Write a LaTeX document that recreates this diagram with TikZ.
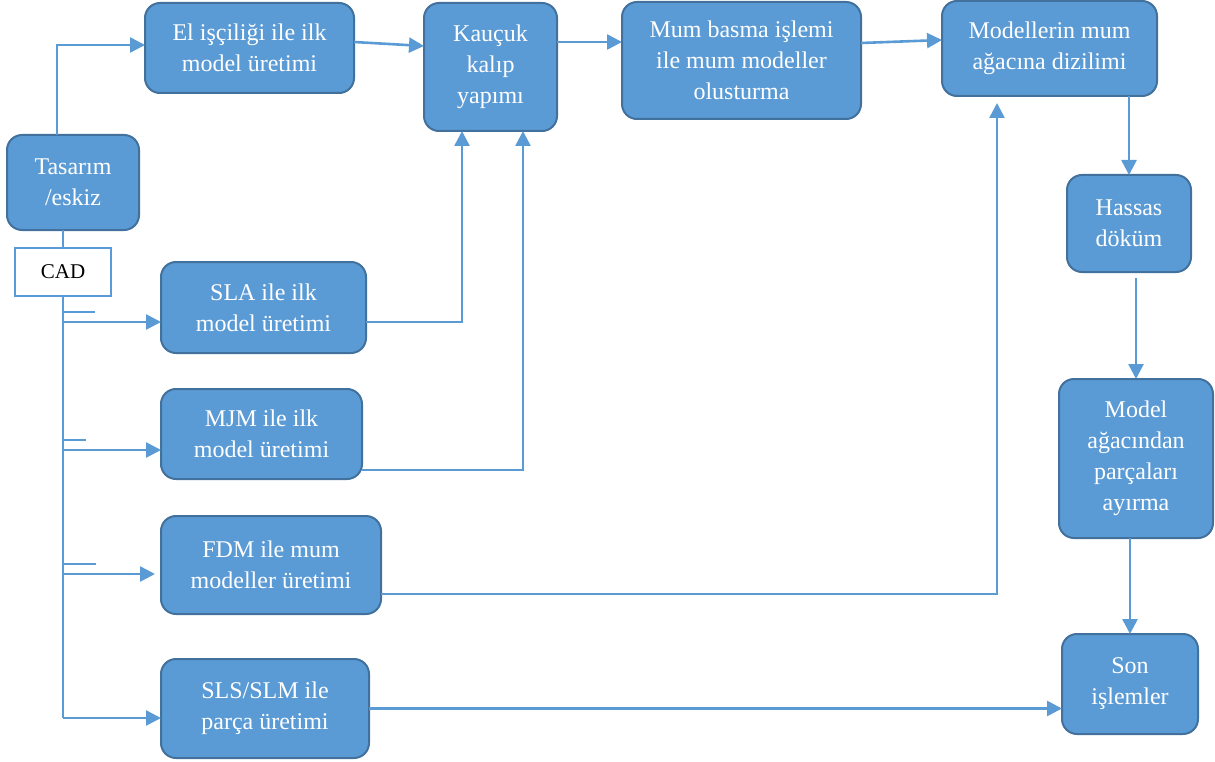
\documentclass[tikz,border=0pt]{standalone}
\usepackage{fontspec}
\setmainfont{Liberation Serif}
\usetikzlibrary{arrows.meta}
\definecolor{boxfill}{HTML}{5B9BD5}
\definecolor{boxline}{HTML}{41719C}
\definecolor{conn}{HTML}{5B9BD5}
\begin{document}
\begin{tikzpicture}[x=1pt,y=-1pt,
  box/.style={draw=boxline, fill=boxfill, line width=2pt, rounded corners=15pt,
    text=white, align=center, inner sep=0pt, outer sep=0pt,
    font=\fontsize{24}{31}\selectfont},
  cadbox/.style={draw=conn, fill=white, line width=2pt, inner sep=0pt, outer sep=0pt,
    font=\fontsize{21}{24}\selectfont, text=black},
  conn/.style={draw=conn, line width=2.6pt},
  arr/.style={conn, -{Triangle[length=15pt,width=15pt]}}
]
\useasboundingbox (0,0) rectangle (1215,762);

\node[box, minimum width=209pt, minimum height=90pt] (el) at (249.5,48) {El işçiliği ile ilk\\model üretimi};
\node[box, minimum width=133pt, minimum height=128pt] (kau) at (490.5,67) {Kauçuk\\kalıp\\yapımı};
\node[box, minimum width=239pt, minimum height=117pt] (mum) at (741.5,60.5) {Mum basma işlemi\\ile mum modeller\\olusturma};
\node[box, minimum width=215pt, minimum height=95pt] (mod) at (1049.5,48.5) {Modellerin mum\\ağacına dizilimi};
\node[box, minimum width=124pt, minimum height=97pt] (has) at (1129,223.5) {Hassas\\döküm};
\node[box, minimum width=154pt, minimum height=159pt] (aga) at (1136,458.5) {Model\\ağacından\\parçaları\\ayırma};
\node[box, minimum width=136pt, minimum height=100pt] (son) at (1130,684) {Son\\işlemler};
\node[box, minimum width=132pt, minimum height=95pt] (tas) at (73,182.5) {Tasarım\\/eskiz};
\node[cadbox, minimum width=96pt, minimum height=48pt] (cad) at (63,272) {CAD};
\node[box, minimum width=205pt, minimum height=91pt] (sla) at (263.5,307.5) {SLA ile ilk\\model üretimi};
\node[box, minimum width=201pt, minimum height=90pt] (mjm) at (261.5,434) {MJM ile ilk\\model üretimi};
\node[box, minimum width=220pt, minimum height=98pt] (fdm) at (271,565) {FDM ile mum\\modeller üretimi};
\node[box, minimum width=208pt, minimum height=99pt] (sls) at (265,708.5) {SLS/SLM ile\\parça üretimi};

% top row
\draw[arr] ([xshift=-16pt]tas.north) |- ([yshift=3pt]el.west);
\draw[arr] ([yshift=6pt]el.east) -- ([yshift=21pt]kau.west);
\draw[arr] ([yshift=25pt]kau.east) -- ([yshift=18.5pt]mum.west);
\draw[arr] ([yshift=17.5pt]mum.east) -- ([yshift=8.5pt]mod.west);

% right column
\draw[arr] (has.north |- mod.south) -- (has.north);
\draw[arr] ([yshift=-6pt]aga.north |- has.south) -- (aga.north);
\draw[arr] (son.north |- aga.south) -- (son.north);

% left trunk
\draw[conn] (cad.north |- tas.south) -- (cad.north);
\coordinate (slain) at ([yshift=-14.5pt]sla.west);
\coordinate (mjmin) at ([yshift=-16pt]mjm.west);
\coordinate (fdmin) at ([yshift=-9pt]fdm.west);
\coordinate (slsin) at ([yshift=-9.5pt]sls.west);
\draw[conn] (cad.south) -- (cad.south |- slsin);
\draw[arr] (cad.south |- slsin) -- (slsin);
\draw[arr] (cad.south |- slain) -- (slain);
\draw[arr] (cad.south |- mjmin) -- (mjmin);
\draw[arr, shorten >=6pt] (cad.south |- fdmin) -- (fdmin);
\coordinate (tickA) at (95,312);
\coordinate (tickB) at (86,440);
\coordinate (tickC) at (96,564);
\draw[conn] (cad.south |- tickA) -- (tickA);
\draw[conn] (cad.south |- tickB) -- (tickB);
\draw[conn] (cad.south |- tickC) -- (tickC);

% to mold / tree
\draw[arr] ([yshift=-14.5pt]sla.east) -| ([xshift=-28.5pt]kau.south);
\draw[arr] ([yshift=-36pt]mjm.east) -| ([xshift=32.5pt]kau.south);
\draw[arr, shorten >=7pt] ([yshift=-29pt]fdm.east) -| ([xshift=-52.5pt]mod.south);
\draw[arr] (sls.east) -- (sls.east -| son.west);
\end{tikzpicture}
\end{document}
